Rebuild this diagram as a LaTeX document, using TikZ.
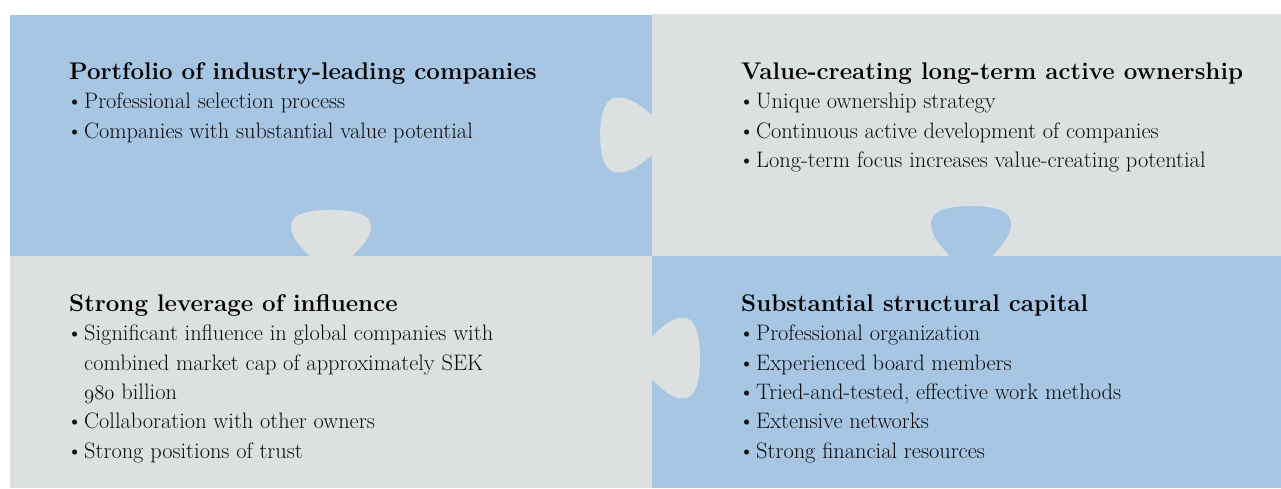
\documentclass[tikz,border=0pt]{standalone}
\usepackage{fontspec}
\definecolor{pblue}{RGB}{166,198,227}
\definecolor{pgray}{RGB}{221,224,225}
\definecolor{ptext}{RGB}{10,10,10}
\newcommand{\puzzletab}[2]{%
  \fill[#1,#2] (-21,0.6) .. controls (-28,-8) and (-40,-18) .. (-40,-31)
    .. controls (-40,-44) and (-22,-48) .. (0,-48)
    .. controls (22,-48) and (40,-44) .. (40,-31)
    .. controls (40,-18) and (28,-8) .. (21,0.6) -- cycle;}
\newcommand{\bul}{\makebox[15pt][l]{\kern-2.5pt\textbullet}}
\newcommand{\osn}[1]{{\usefont{OML}{lmm}{m}{it}#1}}
\begin{document}
\begin{tikzpicture}[x=1pt,y=-1pt,
  hd/.style={anchor=base west,inner sep=0pt,font=\fontsize{24.1}{28}\selectfont\bfseries,text=black},
  ln/.style={anchor=base west,inner sep=0pt,font=\fontsize{22.4}{26}\selectfont,text=ptext}]
\useasboundingbox (0,0) rectangle (1281,488);
% quadrants
\fill[pblue] (10,15) rectangle (652,256);
\fill[pgray] (652,14) rectangle (1281,256);
\fill[pgray] (10,256) rectangle (652,488);
\fill[pblue] (652,256) rectangle (1281,488);
% puzzle tabs
\puzzletab{pgray}{shift={(652,135)},rotate=90,xscale=0.94,yscale=1.08}
\puzzletab{pgray}{shift={(331,256)},yscale=0.96}
\puzzletab{pblue}{shift={(971,256)},yscale=1.04}
\puzzletab{pgray}{shift={(652,358)},rotate=-90,xscale=1.01}
% top left
\node[hd] (tlh) at (69,79) {Portfolio of industry-leading companies};
\node[ln] (tl1) at (69,108.5) {\bul Professional selection process};
\node[ln] (tl2) at (69,138) {\bul Companies with substantial value potential};
% top right
\node[hd] (trh) at (741,79) {Value-creating long-term active ownership};
\node[ln] (tr1) at (741,108.5) {\bul Unique ownership strategy};
\node[ln] (tr2) at (741,138) {\bul Continuous active development of companies};
\node[ln] (tr3) at (741,167.5) {\bul Long-term focus increases value-creating potential};
% bottom left
\node[hd] (blh) at (69,311) {Strong leverage of influence};
\node[ln] (bl1) at (69,340.5) {\bul Significant influence in global companies with};
\node[ln] (bl1b) at (84,370) {combined market cap of approximately SEK};
\node[ln] (bl1c) at (84,399.5) {\osn{980} billion};
\node[ln] (bl2) at (69,428.5) {\bul Collaboration with other owners};
\node[ln] (bl3) at (69,458) {\bul Strong positions of trust};
% bottom right
\node[hd] (brh) at (741,311) {Substantial structural capital};
\node[ln] (br1) at (741,340.5) {\bul Professional organization};
\node[ln] (br2) at (741,370) {\bul Experienced board members};
\node[ln] (br3) at (741,399.5) {\bul Tried-and-tested, effective work methods};
\node[ln] (br4) at (741,428.5) {\bul Extensive networks};
\node[ln] (br5) at (741,458) {\bul Strong financial resources};
\end{tikzpicture}
\end{document}
